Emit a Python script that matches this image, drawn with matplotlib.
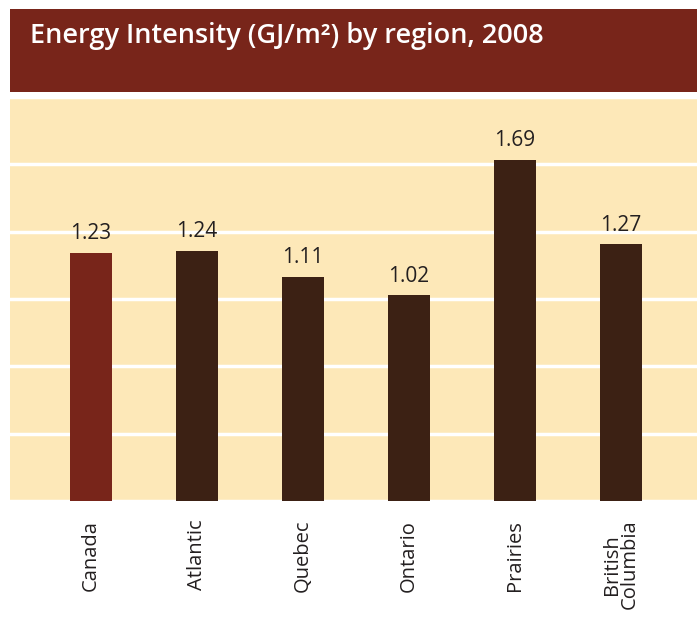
import matplotlib
matplotlib.use("Agg")
import matplotlib.pyplot as plt
from matplotlib.ticker import MultipleLocator

# data
regions = ["Canada", "Atlantic", "Quebec", "Ontario", "Prairies", "British\nColumbia"]
intensity = [1.23, 1.24, 1.11, 1.02, 1.69, 1.27]
title = "Energy Intensity (GJ/m²) by region, 2008"

RED = "#78251a"
DARK = "#3c2114"
BEIGE = "#fde8b8"

W, H = 697, 621
fig = plt.figure(figsize=(W / 100, H / 100), dpi=100)
fig.patch.set_facecolor("white")

# title band
band = fig.add_axes([10 / W, 1 - 92 / H, 1 - 10 / W, 83 / H])
band.set_facecolor(RED)
band.set_xticks([]); band.set_yticks([])
for s in band.spines.values():
    s.set_visible(False)
band.text(20 / 687, 1 - 27 / 83, title, transform=band.transAxes, color="white",
          fontsize=19.5, fontweight="semibold", family="Open Sans", va="center", ha="left")

# plot area
ax = fig.add_axes([10 / W, 1 - 501 / H, 1 - 10 / W, 404 / H])
ax.set_facecolor(BEIGE)
x = list(range(len(regions)))
colors = [RED] + [DARK] * (len(regions) - 1)
bars = ax.bar(x, intensity, width=0.396, color=colors, zorder=3)
ax.set_xlim(-0.764, 5.717)
ax.set_ylim(0, 2.0)
ax.yaxis.set_major_locator(MultipleLocator(1 / 3))
ax.grid(axis="y", color="white", lw=2.5, zorder=1)
ax.tick_params(axis="y", left=False, labelleft=False)
ax.tick_params(axis="x", bottom=False, pad=10)
ax.set_xticks(x)
ax.set_xticklabels(regions, rotation=90, fontsize=14.5, family="Open Sans",
                   color="#231f20", linespacing=0.9)
for s in ax.spines.values():
    s.set_visible(False)

for b, v in zip(bars, intensity):
    ax.annotate(f"{v:.2f}", (b.get_x() + b.get_width() / 2, v), xytext=(0, 6),
                textcoords="offset points", ha="center", va="bottom",
                fontsize=15, family="Open Sans", color="#231f20")

fig.savefig("out.png", dpi=100, facecolor="white")
